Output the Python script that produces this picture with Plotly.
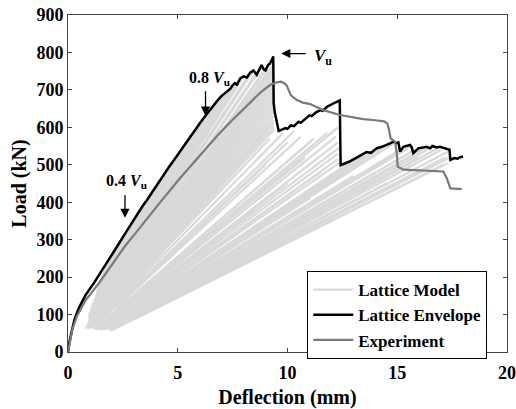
import numpy as np
import plotly.graph_objects as go

# Lattice envelope (deflection in mm, load in kN)
env_defl = [0, 0.05, 0.15, 0.3, 0.5, 0.8, 1.2, 1.6, 1.8, 2.0,
            2.2, 2.4, 2.6, 2.8, 3.0, 3.2, 3.4, 3.6, 3.8, 4.0,
            4.2, 4.4, 4.6, 4.8, 5.0, 5.2, 5.4, 5.6, 5.8, 6.0,
            6.2, 6.4, 6.6, 6.8, 7.0, 7.2, 7.4, 7.5, 7.6, 7.7,
            7.85, 8.0, 8.15, 8.3, 8.45, 8.6, 8.7, 8.82, 8.92, 9.0,
            9.12, 9.2, 9.3, 9.35, 9.37, 9.42, 9.6, 9.8, 9.9, 10.0,
            10.15, 10.3, 10.5, 10.6, 10.8, 11.0, 11.1, 11.3, 11.5, 11.6,
            11.8, 12.0, 12.2, 12.38, 12.42, 12.8, 13.1, 13.3, 13.6, 13.8,
            14.06, 14.3, 14.52, 14.7, 14.82, 14.95, 15.05, 15.13, 15.28, 15.45,
            15.58, 15.65, 15.73, 15.96, 16.1, 16.34, 16.5, 16.6, 16.8, 16.95,
            17.1, 17.33, 17.38, 17.42, 17.6, 17.75, 17.86, 18.0]
env_load = [0, 22, 50, 88, 118, 152, 186, 222, 240, 258,
            277, 297, 316, 335, 354, 373, 390, 406, 424, 442,
            460, 477, 494, 510, 527, 545, 562, 578, 594, 610,
            626, 642, 657, 671, 684, 694, 703, 712, 718, 714,
            731, 736, 733, 746, 752, 740, 750, 766, 755, 752,
            767, 770, 782, 789, 664, 640, 590, 595, 598, 596,
            605, 603, 615, 612, 622, 632, 630, 640, 646, 644,
            655, 660, 667, 672, 499, 508, 518, 526, 534, 532,
            544, 548, 553, 558, 562, 558, 560, 535, 548, 550,
            553, 548, 531, 544, 546, 548, 544, 550, 546, 548,
            545, 540, 540, 513, 518, 516, 520, 522]

# Experimental load-deflection response
exp_defl = [0, 0.03, 0.1, 0.2, 0.4, 0.8, 1.4, 2.0, 2.5, 2.6,
            2.95, 3.55, 4.16, 5.1, 5.7, 6.3, 6.9, 7.5, 8.3, 8.8,
            9.2, 9.5, 9.7, 9.85, 9.96, 10.05, 10.15, 10.42, 10.7, 11.03,
            11.63, 12.39, 13.45, 14.0, 14.4, 14.55, 14.62, 14.7, 14.9, 14.98,
            15.02, 15.28, 16.0, 17.1, 17.25, 17.33, 17.42, 17.94]
exp_load = [0, 10, 35, 60, 95, 138, 183, 233, 275, 283,
            308, 353, 397, 464, 505, 545, 584, 620, 667, 695,
            713, 720, 722, 718, 712, 698, 686, 673, 666, 662,
            646, 633, 622, 619, 616, 610, 595, 570, 562, 530,
            495, 487, 485, 482, 465, 450, 437, 435]

# Lattice model steps: each unloading/reloading branch runs along a secant
# from a low-load state up to the critical state of that step.
lat_lo_defl = [1.47, 1.39, 1.70, 1.32, 1.92, 1.27, 1.72, 1.18, 2.30, 1.08,
               1.63, 1.32, 2.12, 1.02, 1.60, 1.19, 2.67, 1.34, 0.97, 1.86,
               1.18, 1.53, 0.95, 2.11, 1.32, 1.07, 1.82, 1.21, 0.95, 1.61,
               1.09, 1.33, 0.96, 1.86, 1.09, 1.32, 0.95, 1.67, 1.07,
               0.91, 1.62, 0.90, 1.32, 2.17, 0.91, 1.58, 1.12, 2.14, 1.07,
               1.34, 1.11, 2.21, 1.38, 1.92, 1.23, 3.30, 1.53, 2.20, 1.47,
               2.81, 1.87, 1.68, 3.46, 1.68, 2.49, 1.85, 3.10, 1.88, 2.34,
               1.95, 2.19, 1.56, 2.49, 2.03, 2.08, 1.26, 1.31,
               1.23, 0.79, 1.56, 1.00, 1.24, 1.85, 0.91, 1.44, 1.71,
               1.03, 1.31, 1.26, 1.70, 2.27, 1.48, 1.70, 2.39, 2.12,
               1.82, 3.28, 2.00, 2.52, 1.98, 3.08,
               1.02, 1.42, 1.33, 1.95, 1.45, 2.58, 1.34, 1.61, 2.07]
lat_lo_load = [190, 175, 210, 160, 230, 150, 200, 135, 260, 120,
               180, 145, 230, 110, 170, 125, 280, 140, 100, 190,
               120, 155, 95, 210, 130, 105, 175, 115, 90, 150,
               100, 120, 85, 160, 95, 110, 80, 140, 90,
               75, 130, 70, 100, 160, 65, 110, 75, 140, 68,
               80, 62, 120, 70, 95, 60, 150, 66, 90, 58,
               110, 72, 64, 130, 60, 85, 62, 100, 58, 70,
               57, 75, 65, 90, 66, 100, 70, 85,
               100, 62, 120, 75, 90, 130, 62, 95, 110,
               64, 75, 64, 80, 100, 62, 66, 90, 75,
               64, 110, 66, 80, 60, 90,
               70, 90, 60, 70, 65, 80, 75, 60, 62]
lat_hi_defl = [2.0, 2.2, 2.4, 2.6, 2.8, 3.0, 3.2, 3.4, 3.6, 3.8,
               4.0, 4.2, 4.4, 4.6, 4.8, 5.0, 5.2, 5.4, 5.6, 5.8,
               6.0, 6.2, 6.4, 6.6, 6.8, 7.0, 7.2, 7.4, 7.6, 7.85,
               8.0, 8.3, 8.45, 8.7, 8.82, 9.0, 9.12, 9.2, 9.3,
               9.37, 9.37, 9.37, 9.37, 9.37, 9.37, 9.37, 9.37, 9.37, 9.4,
               9.8, 10.0, 10.6, 11.2, 11.8, 12.3, 12.3, 12.3, 12.35, 12.8,
               13.3, 13.8, 14.3, 14.8, 15.3, 15.8, 16.3, 16.8, 17.3, 17.35,
               17.3, 14.0, 11.5, 13.0, 16.0, 10.8, 9.0, 8.0,
               9.37, 9.37, 9.37, 9.37, 9.37, 9.37, 9.37, 9.37, 9.37,
               9.2, 10.3, 11.0, 12.2, 12.35, 12.3, 13.5, 14.6, 15.1,
               15.6, 16.1, 16.6, 17.0, 17.2, 17.1,
               7.0, 6.0, 10.0, 12.0, 8.5, 14.5, 5.0, 11.0, 16.0]
lat_hi_load = [258, 277, 297, 316, 335, 354, 373, 390, 406, 424,
               442, 460, 477, 494, 510, 527, 545, 562, 578, 594,
               610, 626, 642, 657, 671, 684, 694, 703, 718, 731,
               736, 746, 752, 750, 766, 752, 767, 770, 782,
               770, 750, 730, 710, 690, 670, 650, 630, 612, 595,
               585, 560, 575, 570, 585, 600, 560, 530, 505, 505,
               522, 532, 546, 556, 546, 540, 546, 543, 535, 518,
               505, 480, 480, 470, 520, 520, 500, 520,
               760, 740, 720, 700, 680, 660, 640, 620, 603,
               570, 590, 560, 575, 545, 515, 524, 550, 535,
               548, 540, 548, 540, 520, 500,
               480, 380, 450, 430, 380, 450, 280, 410, 480]

x_ticks = [0, 5, 10, 15, 20]
y_ticks = [0, 100, 200, 300, 400, 500, 600, 700, 800, 900]

lat_x, lat_y = [], []
for x0, y0, x1, y1 in zip(lat_lo_defl, lat_lo_load, lat_hi_defl, lat_hi_load):
    lat_x += [x0, x1, None]
    lat_y += [y0, y1, None]

serif = "Liberation Serif, Times New Roman, serif"

fig = go.Figure()
fig.add_trace(go.Scatter(x=lat_x, y=lat_y, mode="lines", name="Lattice Model",
                         line=dict(color="#d9d9d9", width=2.2)))
fig.add_trace(go.Scatter(x=env_defl, y=env_load, mode="lines", name="Lattice Envelope",
                         line=dict(color="black", width=2.5)))
fig.add_trace(go.Scatter(x=exp_defl, y=exp_load, mode="lines", name="Experiment",
                         line=dict(color="#7a7a7a", width=2.2)))

# Ultimate load and the 0.4/0.8 Vu levels on the rising envelope
vu = max(env_load)
i_pk = env_load.index(vu)
x_pk = env_defl[i_pk]
rise_load = env_load[:36]
rise_defl = env_defl[:36]
x_04 = float(np.interp(0.4 * vu, rise_load, rise_defl))
x_08 = float(np.interp(0.8 * vu, rise_load, rise_defl))

arrow = dict(showarrow=True, arrowhead=2, arrowsize=1.4, arrowwidth=1.3,
             arrowcolor="black", axref="pixel", ayref="pixel", text="",
             xref="x", yref="y", standoff=0)
label_font = dict(family=serif, size=16, color="black", weight="bold")
annotations = [
    dict(x=x_08, y=0.8 * vu, ax=0, ay=-26, **arrow),
    dict(x=x_08, y=0.8 * vu, xshift=4, yshift=37, text="0.8 <i>V</i><sub>u</sub>",
         showarrow=False, font=label_font, xref="x", yref="y"),
    dict(x=x_04, y=0.4 * vu, yshift=16, ax=0, ay=-24, **arrow),
    dict(x=x_04, y=0.4 * vu, xshift=2, yshift=52, text="0.4 <i>V</i><sub>u</sub>",
         showarrow=False, font=label_font, xref="x", yref="y"),
    dict(x=x_pk, y=vu, xshift=8, yshift=3, ax=26, ay=0, **arrow),
    dict(x=x_pk, y=vu, xshift=50, yshift=0, text="<i>V</i><sub>u</sub>",
         showarrow=False, font=dict(family=serif, size=17, color="black", weight="bold"),
         xref="x", yref="y"),
]

axis_common = dict(showline=True, linecolor="#444", linewidth=1, mirror="ticks",
                   ticks="inside", ticklen=4, tickcolor="#444", showgrid=False,
                   zeroline=False, automargin=False,
                   tickfont=dict(family=serif, size=18))

fig.update_layout(
    width=516, height=409,
    margin=dict(l=68, r=9, t=15, b=57),
    paper_bgcolor="white", plot_bgcolor="white",
    font=dict(family=serif, size=18, color="black", weight="bold"),
    xaxis=dict(range=[0, 20], tickvals=x_ticks, ticklabelstandoff=4,
               title=dict(text="Deflection (mm)", font=dict(family=serif, size=20), standoff=8),
               **axis_common),
    yaxis=dict(range=[0, 900], tickvals=y_ticks,
               title=dict(text="Load (kN)", font=dict(family=serif, size=20), standoff=4),
               **axis_common),
    legend=dict(x=0.545, y=0.24, xanchor="left", yanchor="top",
                bordercolor="black", borderwidth=1, bgcolor="white",
                font=dict(family=serif, size=17), tracegroupgap=0,
                itemwidth=40),
    annotations=annotations,
    showlegend=True,
)

fig.write_html("out.html")
